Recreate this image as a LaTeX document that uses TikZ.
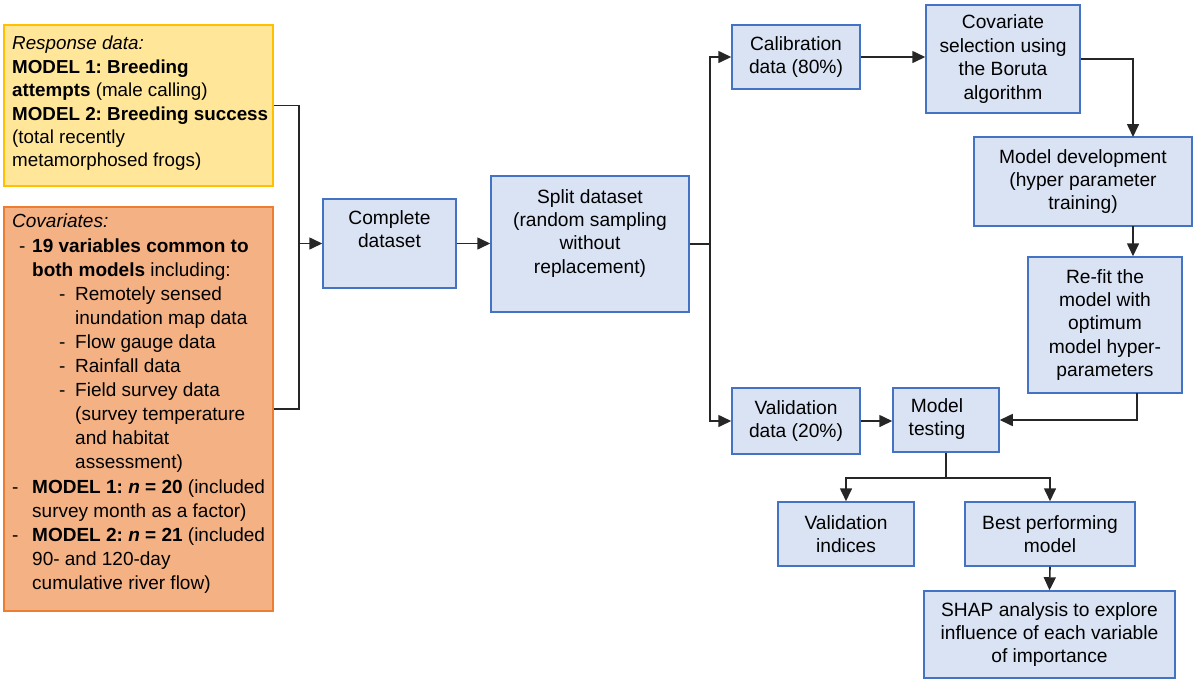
\documentclass[tikz,border=0pt]{standalone}
\usepackage{fontspec}
\setmainfont{Liberation Sans}
\usetikzlibrary{arrows.meta}
\definecolor{yfill}{HTML}{FFE699}
\definecolor{ydraw}{HTML}{FFC000}
\definecolor{ofill}{HTML}{F4B183}
\definecolor{odraw}{HTML}{ED7D31}
\definecolor{bfill}{HTML}{DAE3F3}
\definecolor{bdraw}{HTML}{4472C4}
\tikzset{
  box/.style={draw=bdraw, fill=bfill, line width=1.5pt, rectangle, align=center, inner sep=0pt, font=\fontsize{19.2}{23.4}\selectfont},
  txt/.style={align=center, inner sep=0pt, font=\fontsize{19.2}{23.4}\selectfont},
  conn/.style={line width=1.6pt, draw=black!85},
  arr/.style={conn, -{Triangle[length=13pt,width=12pt]}},
}
\newcommand\dsh[1]{\makebox[#1][l]{-}}
\frenchspacing
\begin{document}
\begin{tikzpicture}[x=1pt,y=-1pt]
\useasboundingbox (0,0) rectangle (1195,681);
% left boxes
\node[draw=ydraw, fill=yfill, line width=1.5pt, minimum width=269pt, minimum height=161pt, inner sep=0pt] (yel) at (138.5,105.5) {};
\node[anchor=north west, align=left, inner sep=0pt, font=\fontsize{18.8}{23.4}\selectfont] (ytxt) at (12,36)
{\textit{Response data:}\\
\textbf{MODEL 1: Breeding}\\
\textbf{attempts} (male calling)\\
\textbf{MODEL 2: Breeding success}\\
(total recently\\
metamorphosed frogs)};
\node[draw=odraw, fill=ofill, line width=1.5pt, minimum width=269pt, minimum height=404pt, inner sep=0pt] (org) at (138.5,409) {};
\node[anchor=north west, align=left, inner sep=0pt, font=\fontsize{19}{24.1}\selectfont] (otxt) at (12,214)
{\textit{Covariates:}\\
\hspace*{7pt}\dsh{13pt}\textbf{19 variables common to}\\
\hspace*{20pt}\textbf{both models} including:\\
\hspace*{47pt}\dsh{16pt}Remotely sensed\\
\hspace*{63pt}inundation map data\\
\hspace*{47pt}\dsh{16pt}Flow gauge data\\
\hspace*{47pt}\dsh{16pt}Rainfall data\\
\hspace*{47pt}\dsh{16pt}Field survey data\\
\hspace*{63pt}(survey temperature\\
\hspace*{63pt}and habitat\\
\hspace*{63pt}assessment)\\
\dsh{20pt}\textbf{MODEL 1: \textit{n} = 20} (included\\
\hspace*{20pt}survey month as a factor)\\
\dsh{20pt}\textbf{MODEL 2: \textit{n} = 21} (included\\
\hspace*{20pt}90- and 120-day\\
\hspace*{20pt}cumulative river flow)};
% blue boxes
\node[box, minimum width=133pt, minimum height=89pt] (cd) at (389.5,243.5) {};
\node[txt, anchor=north] (cdt) at (389.5,210) {Complete\\dataset};
\node[box, minimum width=198pt, minimum height=136pt] (sp) at (590,244) {};
\node[txt, anchor=north] (spt) at (590,189) {Split dataset\\(random sampling\\without\\replacement)};
\node[box, minimum width=128pt, minimum height=64pt] (cal) at (796,57) {Calibration\\data (80\%)};
\node[box, minimum width=154pt, minimum height=108pt] (cov) at (1003,59) {Covariate\\selection using\\the Boruta\\algorithm};
\node[box, minimum width=218pt, minimum height=89pt] (md) at (1083,181.5) {Model development\\(hyper parameter\\training)};
\node[box, minimum width=154pt, minimum height=136pt] (rf) at (1105,325) {Re-fit the\\model with\\optimum\\model hyper-\\parameters};
\node[box, minimum width=128pt, minimum height=66pt] (val) at (796,421) {Validation\\data (20\%)};
\node[box, minimum width=106pt, minimum height=64pt] (mt) at (946,420) {};
\node[txt] (mtt) at (937,419) {Model\\testing};
\node[box, minimum width=136pt, minimum height=64pt] (vi) at (846,534) {Validation\\indices};
\node[box, minimum width=170pt, minimum height=64pt] (bp) at (1050,534) {Best performing\\model};
\node[box, minimum width=251pt, minimum height=87pt] (sh) at (1049.5,634.5) {SHAP analysis to explore\\influence of each variable\\of importance};
% connectors
\coordinate (jx) at (299,243.5);
\draw[conn] (yel.east) -| (jx) |- (org.east);
\draw[arr] (jx) -- (cd.west);
\draw[arr] (cd.east) -- (cd.east -| sp.west);
\coordinate (sj) at (710,244);
\draw[conn] (sp.east) -- (sj);
\draw[arr] (sj) |- (cal.west);
\draw[arr] (sj) |- (val.west);
\draw[arr] (cal.east) -- (cal.east -| cov.west);
\coordinate (mdin) at (1133,137);
\draw[arr] (cov.east) -| (mdin);
\coordinate (mdout) at (1133,226);
\draw[arr] (mdout) -- (mdout |- rf.north);
\coordinate (rfout) at (1137,393);
\draw[arr] (rfout) |- (mt.east);
\draw[arr] (val.east) -- (val.east -| mt.west);
\coordinate (mj) at (946,478);
\draw[conn] (mt.south) -- (mj);
\draw[arr] (mj) -| (vi.north);
\draw[arr] (mj) -| (bp.north);
\draw[arr] (bp.south) -- (sh.north);
\end{tikzpicture}
\end{document}
